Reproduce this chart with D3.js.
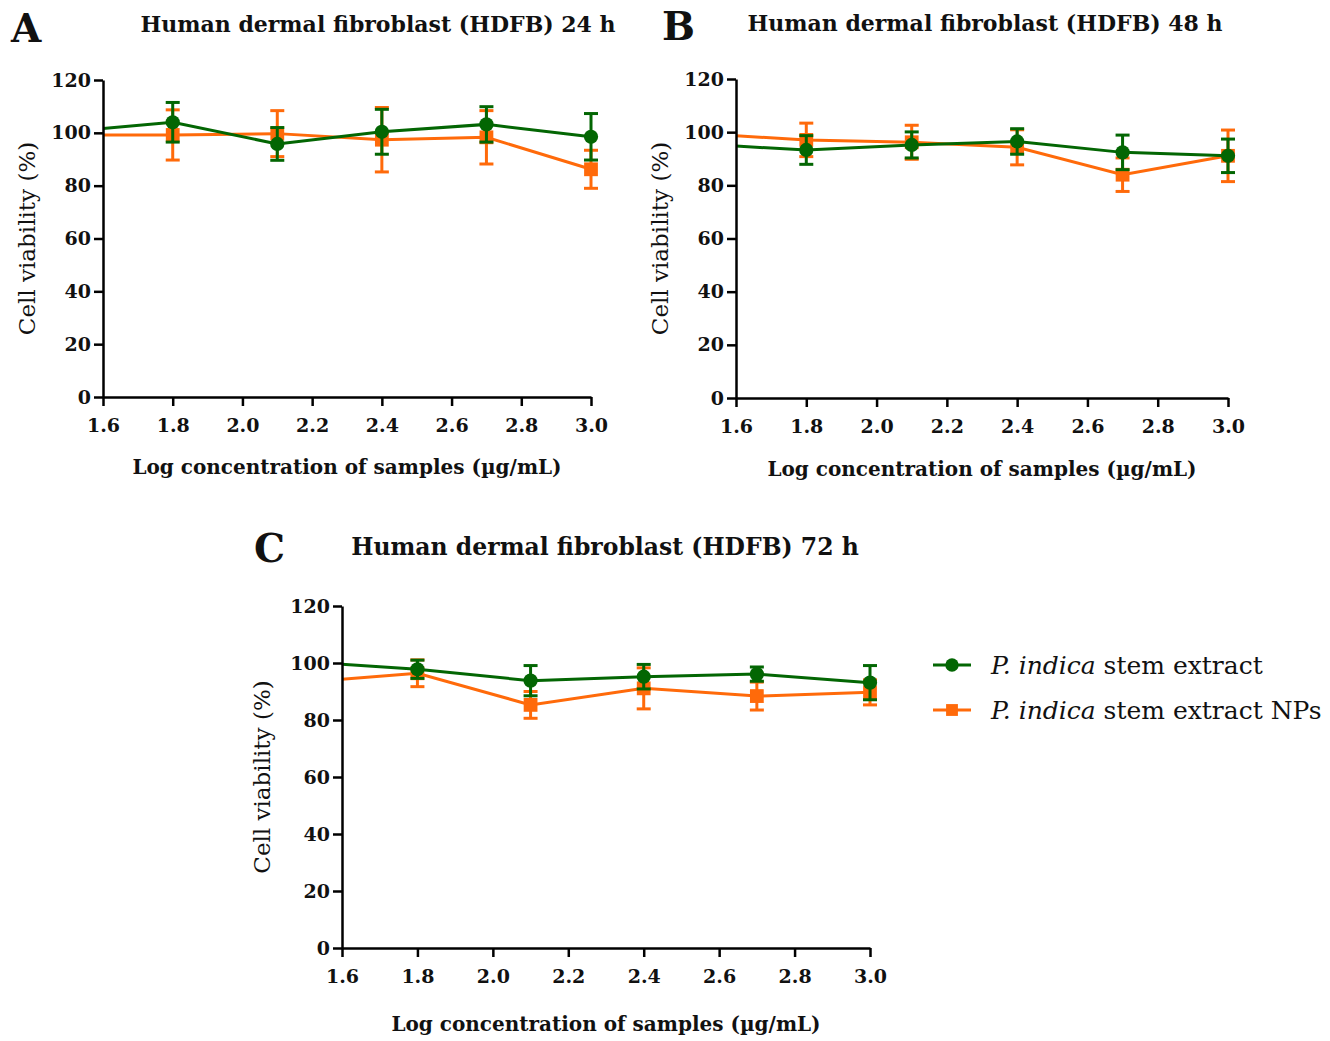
<!DOCTYPE html>
<html lang="en">
<head>
    <meta charset="UTF-8">
    <title>HDFB cell viability</title>
    <script src="https://cdnjs.cloudflare.com/ajax/libs/d3/7.8.5/d3.min.js"></script>
    <style>
        body {
            margin: 0;
            background: #fff;
        }
        text {
            font-family: "DejaVu Serif", "Liberation Serif", serif;
            fill: #111;
        }
        .axis path, .axis line {
            stroke: #000;
            stroke-width: 2.5;
        }
        .axis text {
            font-size: 19px;
            font-weight: bold;
        }
        .panel-letter {
            font-size: 39px;
            font-weight: bold;
        }
        .panel-title {
            font-weight: bold;
            text-anchor: middle;
        }
        .y-label {
            font-size: 23px;
            text-anchor: middle;
        }
        .x-label {
            font-size: 20px;
            font-weight: bold;
            text-anchor: middle;
        }
        .legend text {
            font-size: 25px;
        }
    </style>
</head>
<body>
    <div id="chart"></div>

    <script>
        // Log concentration (first point sits left of the axis and gets clipped)
        const logConc = [1.5, 1.8, 2.1, 2.4, 2.7, 3.0];
        const xTicks = [1.6, 1.8, 2.0, 2.2, 2.4, 2.6, 2.8, 3.0];
        const yTicks = [0, 20, 40, 60, 80, 100, 120];

        // 24 h
        const extract24 = [100.5, 104.0, 95.8, 100.4, 103.2, 98.5];
        const extract24Err = [7.0, 7.5, 6.2, 8.5, 6.7, 8.8];
        const nps24 = [99.2, 99.2, 99.7, 97.4, 98.3, 86.2];
        const nps24Err = [9.0, 9.5, 8.7, 12.2, 10.1, 7.2];

        // 48 h
        const extract48 = [95.5, 93.3, 95.2, 96.5, 92.4, 91.1];
        const extract48Err = [5.0, 5.4, 4.9, 4.8, 6.5, 6.3];
        const nps48 = [99.4, 97.1, 96.2, 94.3, 84.0, 91.1];
        const nps48Err = [6.0, 6.3, 6.4, 6.6, 6.3, 9.7];

        // 72 h
        const extract72 = [100.5, 97.8, 93.8, 95.2, 96.1, 93.1];
        const extract72Err = [3.0, 3.2, 5.3, 4.3, 2.5, 6.0];
        const nps72 = [93.3, 96.4, 85.3, 91.1, 88.4, 89.7];
        const nps72Err = [4.0, 4.7, 4.7, 7.2, 4.9, 4.4];

        const seriesNames = ["stem extract", "stem extract NPs"];
        const green = "#036603";
        const orange = "#ff6a0a";

        const panels = [
            {letter: "A", title: "Human dermal fibroblast  (HDFB) 24 h",
             green: [extract24, extract24Err], orange: [nps24, nps24Err],
             left: 103, top: 80, width: 488, height: 317, titleSize: 22,
             letterX: 11, letterY: 42, titleX: 378, titleY: 32, yLabelX: 35, xLabelY: 474},
            {letter: "B", title: "Human dermal fibroblast  (HDFB) 48 h",
             green: [extract48, extract48Err], orange: [nps48, nps48Err],
             left: 736, top: 79, width: 492, height: 319, titleSize: 22,
             letterX: 662, letterY: 40, titleX: 985, titleY: 31, yLabelX: 668, xLabelY: 476},
            {letter: "C", title: "Human dermal fibroblast  (HDFB) 72 h",
             green: [extract72, extract72Err], orange: [nps72, nps72Err],
             left: 342, top: 606, width: 528, height: 342, titleSize: 23.5,
             letterX: 254, letterY: 562, titleX: 605, titleY: 555, yLabelX: 270, xLabelY: 1031}
        ];

        const svg = d3.select("#chart")
            .append("svg")
            .attr("width", 1330)
            .attr("height", 1041);

        panels.forEach((p, i) => {
            const x = d3.scaleLinear().domain([1.6, 3.0]).range([0, p.width]);
            const y = d3.scaleLinear().domain([0, 120]).range([p.height, 0]);

            svg.append("text")
                .attr("class", "panel-letter")
                .attr("x", p.letterX)
                .attr("y", p.letterY)
                .text(p.letter);

            svg.append("text")
                .attr("class", "panel-title")
                .attr("x", p.titleX)
                .attr("y", p.titleY)
                .style("font-size", p.titleSize + "px")
                .text(p.title);

            const g = svg.append("g")
                .attr("transform", `translate(${p.left},${p.top})`);

            // clip the part left of the y axis
            g.append("clipPath")
                .attr("id", `clip${i}`)
                .append("rect")
                .attr("x", 0)
                .attr("y", -40)
                .attr("width", p.width + 40)
                .attr("height", p.height + 40);

            const plot = g.append("g").attr("clip-path", `url(#clip${i})`);

            const drawSeries = (vals, errs, color, shape) => {
                const pts = logConc.map((c, k) => ({c: c, v: vals[k], e: errs[k]}));
                const sg = plot.append("g");

                sg.append("path")
                    .datum(pts)
                    .attr("fill", "none")
                    .attr("stroke", color)
                    .attr("stroke-width", 3)
                    .attr("d", d3.line().x(d => x(d.c)).y(d => y(d.v)));

                const eb = sg.selectAll(".err")
                    .data(pts)
                    .enter().append("g")
                    .attr("stroke", color)
                    .attr("stroke-width", 3);
                eb.append("line")
                    .attr("x1", d => x(d.c)).attr("x2", d => x(d.c))
                    .attr("y1", d => y(d.v + d.e)).attr("y2", d => y(d.v - d.e));
                eb.append("line")
                    .attr("x1", d => x(d.c) - 7).attr("x2", d => x(d.c) + 7)
                    .attr("y1", d => y(d.v + d.e)).attr("y2", d => y(d.v + d.e));
                eb.append("line")
                    .attr("x1", d => x(d.c) - 7).attr("x2", d => x(d.c) + 7)
                    .attr("y1", d => y(d.v - d.e)).attr("y2", d => y(d.v - d.e));

                sg.selectAll(".marker")
                    .data(pts)
                    .enter().append("path")
                    .attr("transform", d => `translate(${x(d.c)},${y(d.v)})`)
                    .attr("fill", color)
                    .attr("d", d3.symbol().type(shape).size(shape === d3.symbolSquare ? 190 : 160));
            };

            drawSeries(p.orange[0], p.orange[1], orange, d3.symbolSquare);
            drawSeries(p.green[0], p.green[1], green, d3.symbolCircle);

            // axes
            g.append("g")
                .attr("class", "axis")
                .attr("transform", `translate(0,${p.height})`)
                .call(d3.axisBottom(x).tickValues(xTicks).tickFormat(d3.format(".1f"))
                    .tickSizeInner(9).tickSizeOuter(0).tickPadding(13));

            g.append("g")
                .attr("class", "axis")
                .call(d3.axisLeft(y).tickValues(yTicks)
                    .tickSizeInner(9).tickSizeOuter(0).tickPadding(3));

            svg.append("text")
                .attr("class", "y-label")
                .attr("transform", `translate(${p.yLabelX},${p.top + p.height / 2}) rotate(-90)`)
                .text("Cell viability (%)");

            svg.append("text")
                .attr("class", "x-label")
                .attr("x", p.left + p.width / 2)
                .attr("y", p.xLabelY)
                .text("Log concentration of samples  (\u00b5g/mL)");
        });

        // legend
        const legend = svg.append("g")
            .attr("class", "legend")
            .attr("transform", "translate(933,665)");

        const legendItems = [
            {name: seriesNames[0], color: green, shape: d3.symbolCircle},
            {name: seriesNames[1], color: orange, shape: d3.symbolSquare}
        ];

        legendItems.forEach((item, k) => {
            const row = legend.append("g").attr("transform", `translate(0,${k * 45})`);
            row.append("line")
                .attr("x1", 0).attr("x2", 38)
                .attr("stroke", item.color)
                .attr("stroke-width", 3);
            row.append("path")
                .attr("transform", "translate(19,0)")
                .attr("fill", item.color)
                .attr("d", d3.symbol().type(item.shape).size(140));
            const t = row.append("text")
                .attr("x", 58)
                .attr("y", 9);
            t.append("tspan").attr("font-style", "italic").text("P. indica");
            t.append("tspan").text(" " + item.name);
        });
    </script>
</body>
</html>
